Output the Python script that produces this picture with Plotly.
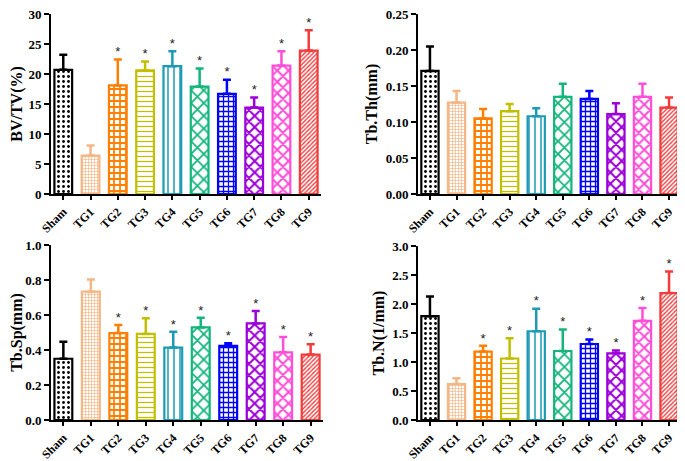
import plotly.graph_objects as go

categories = ["Sham", "TG1", "TG2", "TG3", "TG4", "TG5", "TG6", "TG7", "TG8", "TG9"]

bvtv_mean = [20.7, 6.4, 18.1, 20.6, 21.3, 17.9, 16.7, 14.4, 21.4, 23.9]
bvtv_sd = [2.5, 1.7, 4.3, 1.5, 2.5, 3.0, 2.35, 1.7, 2.4, 3.4]
bvtv_sig = ["", "", "*", "*", "*", "*", "*", "*", "*", "*"]

tbth_mean = [0.171, 0.127, 0.105, 0.115, 0.108, 0.135, 0.132, 0.111, 0.135, 0.120]
tbth_sd = [0.034, 0.016, 0.013, 0.010, 0.011, 0.018, 0.011, 0.015, 0.018, 0.014]
tbth_sig = ["", "", "", "", "", "", "", "", "", ""]

tbsp_mean = [0.350, 0.733, 0.497, 0.492, 0.414, 0.529, 0.424, 0.552, 0.387, 0.374]
tbsp_sd = [0.097, 0.070, 0.046, 0.090, 0.090, 0.055, 0.014, 0.071, 0.088, 0.059]
tbsp_sig = ["", "", "*", "*", "*", "*", "*", "*", "*", "*"]

tbn_mean = [1.79, 0.62, 1.18, 1.06, 1.53, 1.19, 1.31, 1.15, 1.71, 2.19]
tbn_sd = [0.34, 0.10, 0.10, 0.35, 0.39, 0.37, 0.08, 0.05, 0.22, 0.37]
tbn_sig = ["", "", "*", "*", "*", "*", "*", "*", "*", "*"]

colors = ["#000000", "#F4B685", "#FF7F00", "#C2BE00", "#1D9AB5", "#13B57A",
          "#0000FF", "#9B00D9", "#FF4FD8", "#F23C3C"]
shapes = [".", "+", "+", "-", "|", "x", "+", "x", "x", "/"]
psizes = [5, 3, 6, 5, 6, 9, 5, 8, 8, 3]
psolid = [0.25, 0.4, 0.5, 0.25, 0.25, 0.35, 0.45, 0.45, 0.45, 0.45]

panels = [
    (bvtv_mean, bvtv_sd, bvtv_sig, "BV/TV(%)", [0, 30], 5, "d"),
    (tbth_mean, tbth_sd, tbth_sig, "Tb.Th(mm)", [0, 0.25], 0.05, ".2f"),
    (tbsp_mean, tbsp_sd, tbsp_sig, "Tb.Sp(mm)", [0, 1.0], 0.2, ".1f"),
    (tbn_mean, tbn_sd, tbn_sig, "Tb.N(1/mm)", [0, 3.0], 0.5, ".1f"),
]

W, H = 685, 461
xdoms = [[43 / W, 313 / W], [410 / W, 673 / W], [43 / W, 315 / W], [410 / W, 673 / W]]
ydoms = [[1 - 186 / H, 1 - 6 / H], [1 - 186 / H, 1 - 6 / H],
         [1 - 412 / H, 1 - 237 / H], [1 - 412 / H, 1 - 238 / H]]

FONT = "Liberation Serif"
fig = go.Figure()
layout = {}
for i, (mean, sd, sig, title, yr, dt, fmt) in enumerate(panels):
    n = "" if i == 0 else str(i + 1)
    xa, ya = "x" + n, "y" + n
    for j, cat in enumerate(categories):
        fig.add_trace(go.Bar(
            x=[cat], y=[mean[j]], xaxis=xa, yaxis=ya, width=0.65,
            marker=dict(
                color=colors[j],
                line=dict(color=colors[j], width=2.2),
                pattern=dict(shape=shapes[j], size=psizes[j], solidity=psolid[j],
                             fgcolor=colors[j], bgcolor="white", fillmode="replace"),
            ),
            error_y=dict(type="data", symmetric=False, array=[sd[j]],
                         arrayminus=[0], color=colors[j], thickness=2.5, width=4),
            showlegend=False,
        ))
    tops = [m + s for m, s in zip(mean, sd)]
    fig.add_trace(go.Scatter(
        x=categories, y=tops, xaxis=xa, yaxis=ya, mode="text", text=sig,
        textposition="top center", cliponaxis=False,
        textfont=dict(family="Liberation Sans", size=13, color="#222222"),
        showlegend=False, hoverinfo="skip",
    ))
    layout["xaxis" + n] = dict(
        domain=xdoms[i], anchor=ya, range=[-0.45, 9.45], automargin=False,
        categoryorder="array", categoryarray=categories,
        ticklabeloverflow="allow",
        showline=True, linecolor="black", linewidth=2,
        ticks="outside", ticklen=4, tickwidth=1.5, tickcolor="black",
        tickangle=-45, showgrid=False, zeroline=False,
        tickfont=dict(family=FONT, size=12, color="black", weight="bold"),
    )
    layout["yaxis" + n] = dict(
        domain=ydoms[i], anchor=xa, range=yr, dtick=dt, tick0=0, tickformat=fmt,
        automargin=False, ticklabeloverflow="allow",
        showline=True, linecolor="black", linewidth=2,
        ticks="outside", ticklen=5, tickwidth=1.5, tickcolor="black",
        showgrid=False, zeroline=False,
        tickfont=dict(family=FONT, size=13, color="black", weight="bold"),
        title=dict(text="<b>" + title + "</b>", standoff=4,
                   font=dict(family=FONT, size=16, color="black")),
    )

fig.update_layout(
    width=W, height=H, margin=dict(l=0, r=0, t=0, b=0),
    paper_bgcolor="white", plot_bgcolor="white", barmode="overlay",
    font=dict(family=FONT), **layout,
)

fig.write_html("out.html")
